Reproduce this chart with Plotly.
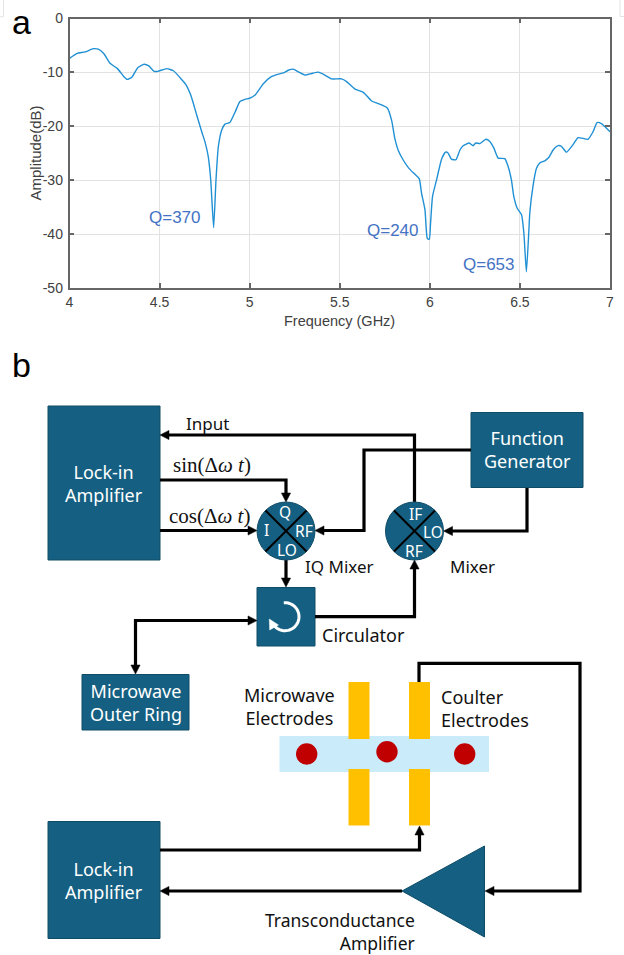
import plotly.graph_objects as go
import numpy as np

# ---------- chart data ----------
freq_ghz = [4.0,4.04,4.087,4.133,4.16,4.19,4.225,4.266,4.30,4.32,4.346,4.38,4.414,4.44,4.47,4.49,4.54,4.577,4.614,4.645,4.673,4.706,4.734,4.752,4.77,4.784,4.8,4.813,4.826,4.845,4.863,4.89,4.92,4.946,4.974,5.0,5.03,5.076,5.12,5.15,5.187,5.214,5.242,5.27,5.307,5.344,5.381,5.418,5.455,5.51,5.538,5.585,5.631,5.677,5.714,5.764,5.788,5.806,5.825,5.853,5.884,5.917,5.941,5.954,5.973,5.986,5.997,6.004,6.015,6.037,6.065,6.087,6.1,6.12,6.145,6.167,6.185,6.219,6.24,6.255,6.278,6.311,6.333,6.355,6.379,6.416,6.435,6.453,6.466,6.485,6.509,6.522,6.536,6.549,6.555,6.573,6.592,6.61,6.638,6.66,6.684,6.712,6.73,6.758,6.795,6.823,6.878,6.906,6.928,6.952,7.0]
amp_db = [-7.4,-6.5,-6.2,-5.6,-5.7,-6.5,-8.3,-9.3,-10.7,-11.3,-10.9,-9.1,-8.5,-8.8,-9.8,-9.8,-9.3,-9.7,-11,-12.2,-14.2,-17.9,-21,-22.9,-25.6,-30,-38.8,-30,-23.8,-20.7,-19.6,-19.3,-17.3,-15.4,-15,-14.8,-14.2,-12.1,-10.8,-10.4,-10.1,-9.6,-9.4,-9.9,-10.5,-10.2,-9.95,-10.5,-11.2,-11.2,-11.7,-13.1,-13.7,-15.3,-15.8,-16.6,-18.9,-22.3,-24.5,-26.3,-27.8,-28.9,-29.7,-32.4,-35.5,-40.8,-41,-38,-33,-30,-26.1,-24.8,-24.9,-26.1,-26.2,-24.4,-23.6,-23.1,-23.6,-23.1,-23.2,-22.4,-22.8,-24,-25.9,-26,-27.5,-30,-33,-35.2,-36.4,-39.8,-47,-39.8,-36,-31,-27.8,-26.8,-26.4,-25.8,-24.4,-23.6,-23.7,-24.8,-23.4,-22.1,-22.4,-21,-19.3,-19.5,-21]
x_ticks = [4,4.5,5,5.5,6,6.5,7]
x_labels = ["4","4.5","5","5.5","6","6.5","7"]
y_ticks = [0,-10,-20,-30,-40,-50]
y_labels = ["0","-10","-20","-30","-40","-50"]
q_labels = ["Q=370","Q=240","Q=653"]
q_x = [4.586, 5.794, 6.33]
q_y = [-37.0, -39.4, -45.7]

W, H = 624, 955
def px(x): return x / W
def py(y): return 1 - y / H

BOX = "#156082"; BOXE = "#0f4c68"; TXT = "#111111"
shapes = []; notes = []

def rect(x0, y0, x1, y1, fill, line=None, lw=1):
    shapes.append(dict(type="rect", xref="paper", yref="paper", x0=px(x0), x1=px(x1), y0=py(y0), y1=py(y1),
                       fillcolor=fill, line=dict(color=line or fill, width=lw if line else 0)))
def circle(cx, cy, r, fill, line=None):
    shapes.append(dict(type="circle", xref="paper", yref="paper", x0=px(cx-r), x1=px(cx+r), y0=py(cy-r), y1=py(cy+r),
                       fillcolor=fill, line=dict(color=line or fill, width=1 if line else 0)))
def path(pts, color="black", width=3.2, fill=None):
    d = "M " + " L ".join(f"{px(a):.5f},{py(b):.5f}" for a, b in pts)
    if fill: d += " Z"
    shapes.append(dict(type="path", xref="paper", yref="paper", path=d,
                       fillcolor=fill or "rgba(0,0,0,0)", line=dict(color=color, width=width)))
def head(x, y, dx, dy, color="black", L=9, w=4.6):
    nx, ny = -dy, dx
    path([(x, y), (x-dx*L+nx*w, y-dy*L+ny*w), (x-dx*L-nx*w, y-dy*L-ny*w)], color=color, width=0.5, fill=color)
def wire(pts, end=True, start=False):
    pts2 = list(pts)
    if end:
        (a, b), (c, d) = pts[-2], pts[-1]
        n = np.hypot(c-a, d-b); ux, uy = (c-a)/n, (d-b)/n
        pts2[-1] = (c-ux*6, d-uy*6)
    if start:
        (c, d), (a, b) = pts[0], pts[1]
        n = np.hypot(c-a, d-b); ux, uy = (c-a)/n, (d-b)/n
        pts2[0] = (c-ux*6, d-uy*6)
    path(pts2)
    if end:
        (a, b), (c, d) = pts[-2], pts[-1]
        n = np.hypot(c-a, d-b); head(c, d, (c-a)/n, (d-b)/n)
    if start:
        (c, d), (a, b) = pts[0], pts[1]
        n = np.hypot(c-a, d-b); head(c, d, (c-a)/n, (d-b)/n)
def text(x, y, s, size=18, color=TXT, font="Noto Sans", xa="center", align="center", angle=0):
    notes.append(dict(xref="paper", yref="paper", x=px(x), y=py(y), text=s, showarrow=False, textangle=angle,
                      xanchor=xa, yanchor="middle", align=align, font=dict(size=size, color=color, family=font)))

# boxes
rect(48, 406, 160, 560, BOX, BOXE)
rect(48, 821.5, 160, 938.5, BOX, BOXE)
rect(82, 674.5, 189, 730, BOX, BOXE)
rect(471, 412.5, 583, 487.5, BOX, BOXE)
rect(257, 587.5, 315, 646, BOX, BOXE)

# wires
wire([(414.5,502),(414.5,435),(160,435)])
wire([(160,480),(286,480),(286,502)])
wire([(160,530.5),(257,530.5)])
wire([(471,450),(364,450),(364,530.5),(315,530.5)])
wire([(527,488),(527,531),(443.5,531)])
wire([(286,560),(286,587)])
wire([(315,616.7),(414.5,616.7),(414.5,560)])
wire([(135.5,674),(135.5,620.5),(257,620.5)], start=True)
wire([(419,683),(419,663.3),(580,663.3),(580,891),(485,891)])
wire([(402,891),(160,891)])
wire([(160,850),(419.5,850),(419.5,826)])

# mixers
for cx, cy in [(286, 531), (414.5, 531)]:
    circle(cx, cy, 29, BOX, BOXE)
    d = 20.5
    path([(cx-d, cy-d), (cx+d, cy+d)], width=2)
    path([(cx-d, cy+d), (cx+d, cy-d)], width=2)

# circulator arrow
ang = np.radians(np.linspace(-95, 137, 40))
path([(285+14*np.cos(a), 616.7+14*np.sin(a)) for a in ang], color="white", width=3)
path([(269.3,619),(269.7,630),(278.5,625)], color="white", width=0.5, fill="white")

# amplifier
path([(402,891),(484.5,846),(484.5,937)], color=BOXE, width=1, fill=BOX)

# device
rect(279.5, 736, 489, 772, "#c9ebfa")
for x0, x1 in [(348.5,369.5),(409,430)]:
    rect(x0, 682, x1, 739, "#ffc000")
    rect(x0, 769, x1, 825.5, "#ffc000")
for cx, cy in [(306.7,754),(387,751.7),(464.7,754)]:
    circle(cx, cy, 10.7, "#c00000")

# faint selection marks in the corners
path([(0,16.7),(3.5,16.7),(3.5,0)], color="#e4e4e4", width=1)
path([(624,16.5),(620,16.5),(620,0)], color="#e4e4e4", width=1)

# texts
text(21, 22, "a", size=34, color="#000", font="Liberation Sans")
text(21, 365, "b", size=34, color="#000", font="Liberation Sans")
W_ = "white"
text(104, 483.5, "Lock-in<br>Amplifier", color=W_)
text(104, 880.5, "Lock-in<br>Amplifier", color=W_)
text(135.5, 702, "Microwave<br>Outer Ring", color=W_)
text(527, 450, "Function<br>Generator", color=W_)
text(207, 423, "Input", size=17)
math = "Liberation Serif"
text(211.5, 465.5, "sin(Δ<i>ω t</i>)", size=21, font=math)
text(209.5, 515.5, "cos(Δ<i>ω t</i>)", size=21, font=math)
for x, y, s in [(266,530,"I"),(284.5,511.5,"Q"),(304,531,"RF"),(286.5,549.5,"LO"),
                (415,513.5,"IF"),(432.5,531.5,"LO"),(414.3,551,"RF")]:
    text(x, y, s, size=15.5, color=W_)
text(339, 566, "IQ Mixer", size=17)
text(472, 566, "Mixer", size=17)
text(363, 635, "Circulator", size=18)
text(289, 706.5, "Microwave<br>Electrodes")
text(439, 708.5, "Coulter<br>Electrodes", xa="left", align="left")
text(417, 931.5, "Transconductance<br>Amplifier", size=17.5, xa="right", align="right")

# axis titles
text(340, 321, "Frequency (GHz)", size=14.5, color="#404040", font="Liberation Sans")
text(34.5, 153, "Amplitude(dB)", size=15, color="#404040", font="Liberation Sans", angle=-90)

# Q labels in the chart
for (xv, yv, s) in zip(q_x, q_y, q_labels):
    notes.append(dict(xref="x", yref="y", x=xv, y=yv, text=s, showarrow=False, xanchor="center", yanchor="middle",
                      font=dict(size=17, color="#4472c4", family="Liberation Sans")))

fig = go.Figure(go.Scatter(x=freq_ghz, y=amp_db, mode="lines",
                           line=dict(color="#2090d4", width=1.4, shape="spline", smoothing=0.5),
                           hoverinfo="skip"))
AX = dict(automargin=False, showgrid=True, gridcolor="#e2e2e2", gridwidth=1.2, zeroline=False, showline=True, linecolor="#666666",
          linewidth=1.5, mirror="ticks", ticks="inside", ticklen=5, tickcolor="#666666", tickwidth=1.5,
          tickfont=dict(size=14, color="#404040", family="Liberation Sans"))
fig.update_layout(
    width=W, height=H, margin=dict(l=0, r=0, t=0, b=0), paper_bgcolor="white", plot_bgcolor="white",
    showlegend=False, shapes=shapes, annotations=notes,
    xaxis=dict(AX, domain=[px(69.5), px(610)], range=[4, 7], tickvals=x_ticks, ticktext=x_labels),
    yaxis=dict(AX, domain=[py(288), py(18.5)], range=[-50, 0], tickvals=y_ticks, ticktext=y_labels, ticklabelstandoff=2),
)
fig.write_html("out.html", config=dict(displayModeBar=False),
               post_script="document.body.style.margin='0';document.body.style.overflow='hidden';")
